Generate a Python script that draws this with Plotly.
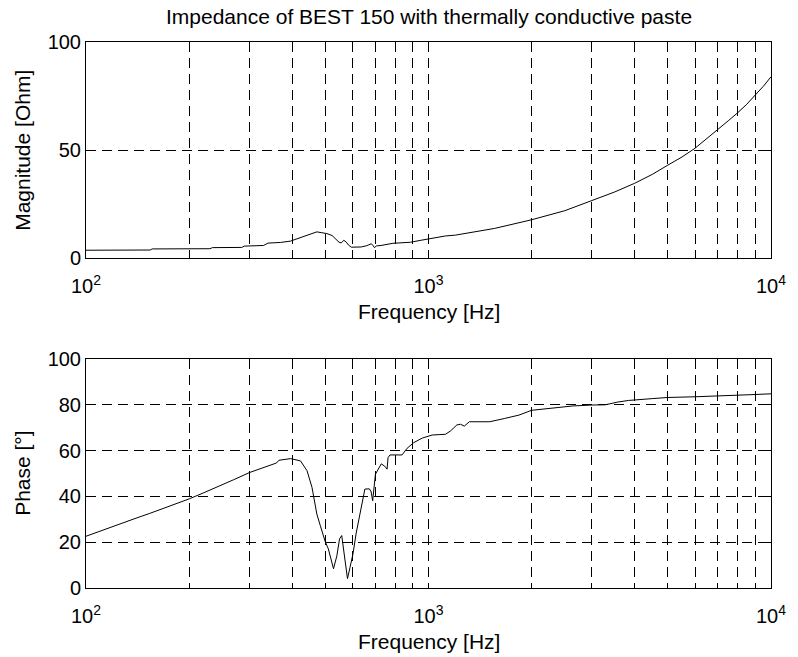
import plotly.graph_objects as go

# ---- data ----
mag_freq = [100, 154, 156, 230, 234, 285, 290, 330, 340, 370, 395, 420, 442, 472, 488,
            505, 523, 535, 548, 556, 566, 575, 584, 595, 636, 660, 681, 690, 695, 705,
            727, 787, 850, 887, 950, 1000, 1120, 1200, 1560, 2000, 2500, 3000, 3500,
            4000, 4500, 5000, 5500, 6000, 6500, 7000, 7500, 8000, 8500, 9000, 9500, 10000]
mag_ohm = [3.6, 3.7, 4.2, 4.3, 4.8, 4.9, 5.5, 5.8, 6.9, 7.2, 7.8, 9.3, 10.6, 12.1, 11.7,
           11.3, 10.4, 8.8, 7.3, 7.0, 8.2, 7.4, 6.0, 5.0, 5.1, 5.7, 6.6, 5.6, 4.8, 5.6,
           5.8, 6.8, 7.0, 7.3, 8.2, 8.8, 10.2, 10.6, 13.7, 17.7, 21.9, 26.6, 30.6,
           34.6, 38.7, 43.0, 46.8, 50.8, 55.2, 59.6, 63.5, 67.3, 71.2, 75.5, 79.5, 83.9]

ph_freq = [100, 110, 125, 140, 153, 175, 200, 220, 243, 270, 300, 320, 340, 355, 360,
           366, 396, 423, 442, 457, 472, 483, 500, 510, 520, 528, 540, 550, 558, 566,
           573, 580, 590, 602, 615, 631, 652, 672, 680, 687, 692, 700, 728, 745, 757,
           762, 772, 837, 866, 906, 960, 1025, 1080, 1120, 1160, 1210, 1240, 1272, 1316,
           1508, 1665, 1837, 2000, 2290, 2640, 3000, 3280, 3570, 3840, 4500, 5000, 6000,
           7000, 8000, 9000, 10000]
ph_deg = [22.6, 24.9, 27.8, 30.5, 32.5, 35.6, 38.9, 41.5, 44.2, 47.3, 50.4, 51.9, 53.3, 54.2, 54.6,
          55.8, 56.5, 55.5, 51.2, 43.9, 32.3, 27.3, 20.0, 17.1, 12.0, 8.4, 14.0, 21.5, 22.9, 16.0,
          8.0, 4.1, 9.0, 15.0, 24.0, 32.3, 43.2, 43.3, 42.0, 38.1, 43.0, 49.7, 54.2, 53.2, 51.9,
          57.0, 58.1, 58.1, 61.0, 63.5, 65.5, 66.8, 67.0, 67.1, 68.6, 71.2, 71.5, 70.7, 72.6,
          72.6, 74.0, 75.5, 77.6, 78.4, 79.5, 79.9, 80.0, 81.2, 81.9, 82.7, 83.2, 83.5,
          84.0, 84.3, 84.5, 84.8]

x_tickvals = [100, 200, 300, 400, 500, 600, 700, 800, 900,
              1000, 2000, 3000, 4000, 5000, 6000, 7000, 8000, 9000, 10000]
x_ticktext = ["10<sup>2</sup>", "", "", "", "", "", "", "", "",
              "10<sup>3</sup>", "", "", "", "", "", "", "", "", "10<sup>4</sup>"]
mag_ticks = [0, 50, 100]
ph_ticks = [0, 20, 40, 60, 80, 100]

title_text = "Impedance of BEST 150 with thermally conductive paste"
xlabel = "Frequency [Hz]"
ylabel_mag = "Magnitude [Ohm]"
ylabel_ph = "Phase [°]"

FONT = "Liberation Sans, Arial, Helvetica, sans-serif"
FS = 21
TFS = 20

fig = go.Figure()
fig.add_trace(go.Scatter(x=mag_freq, y=mag_ohm, mode="lines", line=dict(color="black", width=1),
                         xaxis="x", yaxis="y", showlegend=False))
fig.add_trace(go.Scatter(x=ph_freq, y=ph_deg, mode="lines", line=dict(color="black", width=1),
                         xaxis="x2", yaxis="y2", showlegend=False))

W, H = 798, 657
ml, mr, mt, mb = 86, 18, 42, 69
ph = H - mt - mb
pw = W - ml - mr

def py(pix):
    return (H - mb - pix) / ph

def px(pix):
    return (pix - ml) / pw

grid = dict(showgrid=True, gridcolor="black", gridwidth=1, griddash="10px,6px",
            showline=True, linecolor="black", linewidth=1, mirror="ticks",
            ticks="inside", ticklen=5, tickcolor="black", zeroline=False,
            tickfont=dict(family=FONT, size=TFS, color="black"))

xcommon = dict(type="log", range=[2, 4], tickmode="array", tickvals=x_tickvals,
               ticktext=x_ticktext, ticklabelstandoff=10, **grid)

fig.update_layout(
    width=W, height=H,
    margin=dict(l=ml, r=mr, t=mt, b=mb),
    paper_bgcolor="white", plot_bgcolor="white",
    font=dict(family=FONT, size=FS, color="black"),
    xaxis=dict(domain=[0, 1], anchor="y", **xcommon),
    yaxis=dict(domain=[py(258), 1], anchor="x", range=[0, 100], tickmode="array",
               tickvals=mag_ticks, **grid),
    xaxis2=dict(domain=[0, 1], anchor="y2", **xcommon),
    yaxis2=dict(domain=[0, py(359)], anchor="x2", range=[0, 100], tickmode="array",
                tickvals=ph_ticks, **grid),
    annotations=[
        dict(text=title_text, x=0.5, y=py(17), xref="paper", yref="paper",
             showarrow=False, xanchor="center", yanchor="middle",
             font=dict(family=FONT, size=FS, color="black")),
        dict(text=xlabel, x=0.5, y=py(311), xref="paper", yref="paper",
             showarrow=False, xanchor="center", yanchor="middle",
             font=dict(family=FONT, size=FS, color="black")),
        dict(text=xlabel, x=0.5, y=py(641), xref="paper", yref="paper",
             showarrow=False, xanchor="center", yanchor="middle",
             font=dict(family=FONT, size=FS, color="black")),
        dict(text=ylabel_mag, x=px(21), y=py(150), xref="paper", yref="paper",
             showarrow=False, xanchor="center", yanchor="middle", textangle=-90,
             font=dict(family=FONT, size=FS, color="black")),
        dict(text=ylabel_ph, x=px(21), y=py(473), xref="paper", yref="paper",
             showarrow=False, xanchor="center", yanchor="middle", textangle=-90,
             font=dict(family=FONT, size=FS, color="black")),
    ],
)

fig.write_html("out.html")
